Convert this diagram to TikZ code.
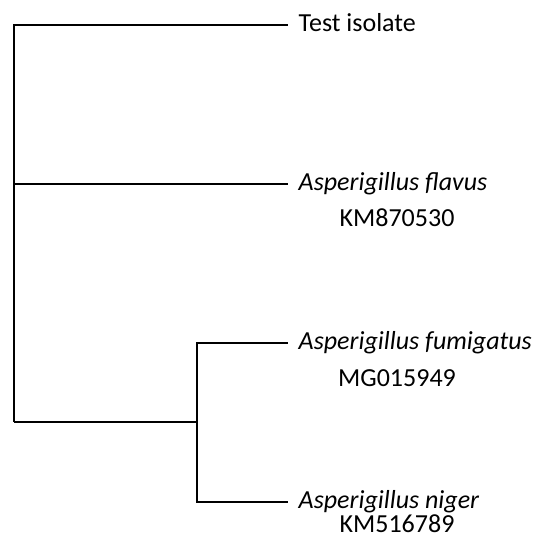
\documentclass[tikz,border=0pt]{standalone}
\usepackage{fontspec}
\setmainfont{Carlito}

\begin{document}
\begin{tikzpicture}[x=1pt,y=-1pt,line width=1.4pt]
\tikzstyle{every node}=[font=\fontsize{26}{31}\selectfont]
\tikzstyle{leaf}=[anchor=west,inner xsep=10pt,inner ysep=0pt,text height=12pt,text depth=0pt]
\tikzstyle{acc}=[anchor=base,inner sep=0pt]
\useasboundingbox (0,0) rectangle (542,539);
\coordinate (r) at (14,422);
\coordinate (c) at (197,422);
\node[leaf] (t) at (288,25) {Test isolate};
\node[leaf] (fl) at (288,184) {\itshape Asperigillus flavus};
\node[leaf] (fu) at (288,343) {\itshape Asperigillus fumigatus};
\node[leaf] (ni) at (288,502) {\itshape Asperigillus niger};
\node[acc] (fl-id) at (397,226) {KM870530};
\node[acc] (fu-id) at (397,386) {MG015949};
\node[acc] (ni-id) at (397,532) {KM516789};
\draw (r) |- (t.west)
(r) |- (fl.west)
(r) -- (c)
(c) |- (fu.west)
(c) |- (ni.west);
\end{tikzpicture}
\end{document}
